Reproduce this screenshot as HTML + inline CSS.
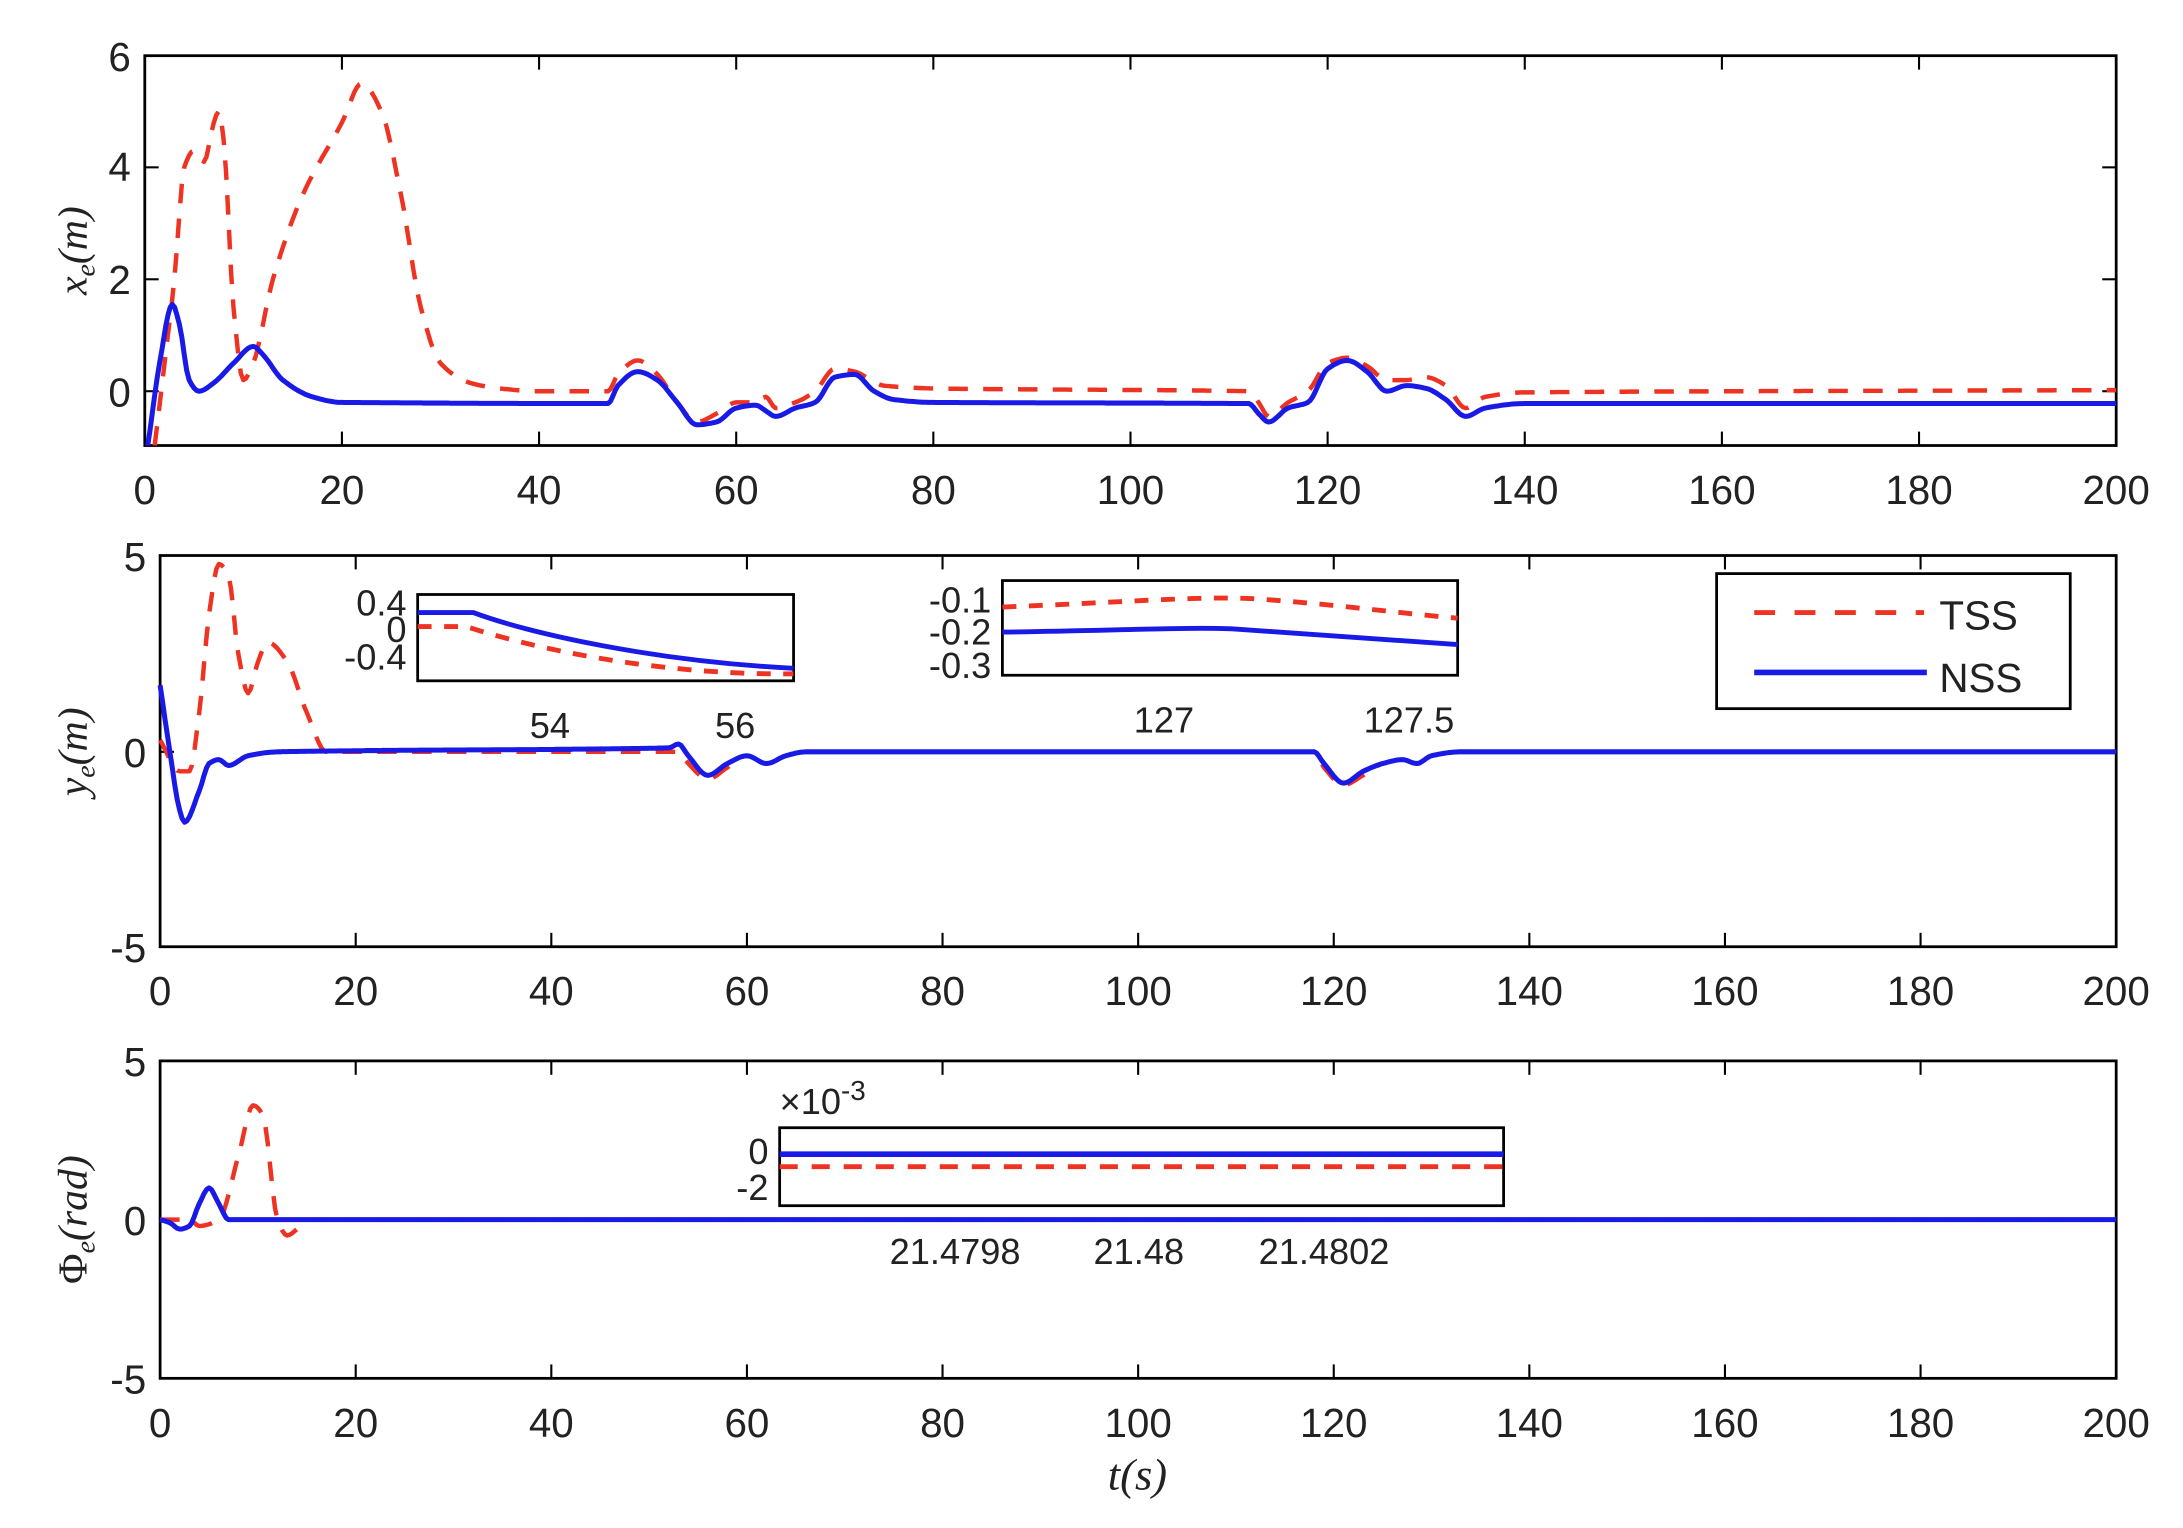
<!DOCTYPE html>
<html><head><meta charset="utf-8">
<style>
html,body{margin:0;padding:0;background:#fff;}
svg{display:block;}
text{font-family:"Liberation Sans",sans-serif;fill:#222;}
.it{font-family:"Liberation Serif",serif;font-style:italic;}
</style></head>
<body>
<svg id="s" width="2183" height="1528" viewBox="0 0 1568 1097.5" preserveAspectRatio="none" xmlns="http://www.w3.org/2000/svg">
<g fill="none" stroke="#000" stroke-width="2">
<rect x="104" y="40" width="1416" height="280"/>
<rect x="115" y="399" width="1405" height="281"/>
<rect x="115" y="762" width="1405" height="228"/>
</g>
<g id="ticks" stroke="#000" stroke-width="1.5"></g>
<g id="series"></g>
<g font-size="29" text-anchor="middle" id="labels"></g>
<g font-size="29" text-anchor="end">
<text x="94" y="51">6</text><text x="94" y="130">4</text><text x="94" y="211">2</text><text x="94" y="292">0</text>
<text x="105" y="410">5</text><text x="105" y="551">0</text><text x="105" y="691">-5</text>
<text x="105" y="773">5</text><text x="105" y="887">0</text><text x="105" y="1001">-5</text>
</g>
<text class="it" font-size="30" transform="translate(62,180) rotate(-90)" text-anchor="middle">x<tspan font-size="20" dy="6">e</tspan><tspan dy="-6">(m)</tspan></text>
<text class="it" font-size="30" transform="translate(62,540) rotate(-90)" text-anchor="middle">y<tspan font-size="20" dy="6">e</tspan><tspan dy="-6">(m)</tspan></text>
<text class="it" font-size="30" transform="translate(62,876) rotate(-90)" text-anchor="middle"><tspan font-style="normal">Φ</tspan><tspan font-size="20" dy="6">e</tspan><tspan dy="-6">(rad)</tspan></text>
<text class="it" font-size="32" x="817" y="1070" text-anchor="middle">t(s)</text>
<g id="over">
<rect x="1233" y="412" width="254" height="97" fill="#fff" stroke="#000" stroke-width="2"/>
<line x1="1260" y1="440" x2="1382" y2="440" stroke="#e32" stroke-width="3.5" stroke-dasharray="15,14"/>
<line x1="1260" y1="483" x2="1384" y2="483" stroke="#1a1ae6" stroke-width="4"/>
<text x="1393" y="452" font-size="29">TSS</text>
<text x="1393" y="497" font-size="29">NSS</text>
<rect x="300" y="427" width="270" height="62" fill="#fff" stroke="#000" stroke-width="2"/>
<path d="M300,440 L340,440 C380,455 470,475 570,480" fill="none" stroke="#1a1ae6" stroke-width="3.5"/>
<path d="M300,450 L335,450 C380,465 470,485 570,484" fill="none" stroke="#e32" stroke-width="3.5" stroke-dasharray="10,9"/>
<g font-size="26" text-anchor="end"><text x="292" y="442">0.4</text><text x="292" y="461">0</text><text x="292" y="481">-0.4</text></g>
<g font-size="26" text-anchor="middle"><text x="395" y="530">54</text><text x="528" y="530">56</text></g>
<rect x="720" y="417" width="327" height="68" fill="#fff" stroke="#000" stroke-width="2"/>
<path d="M720,436 C800,433 860,428 900,430 C960,434 1000,440 1047,444" fill="none" stroke="#e32" stroke-width="3.5" stroke-dasharray="10,9"/>
<path d="M720,454 C800,453 860,450 890,452 C950,456 1000,460 1047,463" fill="none" stroke="#1a1ae6" stroke-width="3.5"/>
<g font-size="26" text-anchor="end"><text x="712" y="440">-0.1</text><text x="712" y="463">-0.2</text><text x="712" y="487">-0.3</text></g>
<g font-size="26" text-anchor="middle"><text x="836" y="526">127</text><text x="1012" y="526">127.5</text></g>
<rect x="560" y="810" width="520" height="56" fill="#fff" stroke="#000" stroke-width="2"/>
<line x1="560" y1="829" x2="1080" y2="829" stroke="#1a1ae6" stroke-width="4"/>
<line x1="560" y1="838" x2="1080" y2="838" stroke="#e32" stroke-width="3.5" stroke-dasharray="13,10"/>
<g font-size="26" text-anchor="end"><text x="552" y="836">0</text><text x="552" y="862">-2</text></g>
<text x="560" y="800" font-size="26">×10<tspan font-size="20" dy="-10">-3</tspan></text>
<g font-size="26" text-anchor="middle"><text x="686" y="908">21.4798</text><text x="818" y="908">21.48</text><text x="951" y="908">21.4802</text></g>
</g>
</svg>
<script>
var NS="http://www.w3.org/2000/svg";
function el(p,tag,a){var e=document.createElementNS(NS,tag);for(var k in a)e.setAttribute(k,a[k]);p.appendChild(e);return e;}
var T=document.getElementById('ticks'),L=document.getElementById('labels'),S=document.getElementById('series');
var plots=[{x0:104,w:1416,top:40,bot:320,ly:362,y0:281,sy:40.2,yt:[-1,0,2,4,6]},
{x0:115,w:1405,top:399,bot:680,ly:722,y0:540,sy:28.1,yt:[-5,0,5]},
{x0:115,w:1405,top:762,bot:990,ly:1032,y0:876,sy:22.8,yt:[-5,0,5]}];
plots.forEach(function(p){
 for(var t=0;t<=200;t+=20){var x=p.x0+p.w*t/200;
  if(t>0&&t<200){el(T,'line',{x1:x,y1:p.top,x2:x,y2:p.top+10});el(T,'line',{x1:x,y1:p.bot,x2:x,y2:p.bot-10});}
  var tx=el(L,'text',{x:x,y:p.ly});tx.textContent=t;}
 p.yt.forEach(function(v){var y=p.y0-v*p.sy;if(y>p.top+2&&y<p.bot-2){el(T,'line',{x1:p.x0,y1:y,x2:p.x0+10,y2:y});el(T,'line',{x1:p.x0+p.w,y1:y,x2:p.x0+p.w-10,y2:y});}});
});
function draw(p,pts,red){
 var n=pts.length,xs=pts.map(function(q){return q[0];}),ys=pts.map(function(q){return q[1];});
 var d=[],m=[];
 for(var i=0;i<n-1;i++)d.push((ys[i+1]-ys[i])/(xs[i+1]-xs[i]));
 for(i=0;i<n;i++){
  if(i==0)m.push(d[0]);else if(i==n-1)m.push(d[n-2]);
  else if(d[i-1]*d[i]<=0)m.push(0);else m.push(2/(1/d[i-1]+1/d[i]));
 }
 var path='';
 for(i=0;i<n-1;i++){var h=xs[i+1]-xs[i],steps=Math.max(2,Math.ceil(h*4));
  for(var k=(i==0?0:1);k<=steps;k++){var s=k/steps,s2=s*s,s3=s2*s;
   var y=(2*s3-3*s2+1)*ys[i]+(s3-2*s2+s)*h*m[i]+(-2*s3+3*s2)*ys[i+1]+(s3-s2)*h*m[i+1];
   var X=p.x0+p.w*(xs[i]+s*h)/200,Y=Math.min(p.bot,Math.max(p.top,p.y0-y*p.sy));
   path+=(path?'L':'M')+X.toFixed(1)+','+Y.toFixed(1);}
 }
 var a={d:path,fill:'none','stroke-width':red?3.2:3.6,stroke:red?'#e32':'#1a1ae6','stroke-linejoin':'round'};
 if(red)a['stroke-dasharray']='14,11';
 el(S,'path',a);
}
draw(plots[0],[[1,-1],[2,0.5],[3,2],[4,4],[5,4.3],[6,4.1],[7,4.8],[7.5,5.0],[8,4.5],[9,1.5],[10,0.2],[11,0.5],[13,2],[16,3.5],[20,4.8],[22,5.5],[24,5.0],[26,3.5],[28,1.5],[30,0.5],[33,0.15],[36,0.05],[40,0],[47,0],[48,0.3],[50,0.55],[52,0.3],[54,-0.2],[56,-0.55],[58,-0.4],[60,-0.2],[62,-0.2],[63,-0.1],[64,-0.3],[66,-0.2],[68,0],[70,0.4],[72,0.35],[75,0.1],[80,0.05],[112,0.0],[113,-0.2],[114,-0.45],[116,-0.2],[118,0],[120,0.5],[122,0.6],[124,0.45],[126,0.2],[128,0.2],[130,0.25],[132,0.1],[134,-0.3],[136,-0.1],[140,-0.02],[200,0.02]],true);
draw(plots[0],[[0.3,-1],[1.5,0.5],[2.8,1.55],[3.5,1.2],[4.5,0.2],[5.5,0],[7,0.15],[9,0.5],[11,0.8],[12,0.65],[14,0.2],[17,-0.1],[20,-0.2],[47,-0.22],[48,0.1],[50,0.35],[52,0.2],[54,-0.2],[56,-0.6],[58,-0.55],[60,-0.3],[62,-0.25],[63,-0.35],[64,-0.45],[66,-0.3],[68,-0.2],[70,0.25],[72,0.3],[74,0],[76,-0.15],[80,-0.2],[112,-0.22],[113,-0.4],[114,-0.55],[116,-0.3],[118,-0.2],[120,0.4],[122,0.55],[124,0.35],[126,0],[128,0.1],[130,0.05],[132,-0.15],[134,-0.45],[136,-0.3],[140,-0.22],[200,-0.22]],false);
draw(plots[1],[[0,0.3],[2,-0.5],[3,-0.5],[4,1],[5,3.5],[6,4.8],[7,4.5],[8,2.5],[9,1.5],[10,2.3],[11,2.8],[13,2.3],[15,1],[17,0],[20,0],[52,0],[53,0],[54,-0.3],[56,-0.7],[58,-0.4],[60,-0.1],[62,-0.3],[64,-0.1],[66,0],[118,0],[119,-0.4],[121,-0.85],[123,-0.6],[125,-0.3],[127,-0.2],[128.5,-0.3],[130,-0.1],[133,0],[200,0]],true);
draw(plots[1],[[0,1.7],[1,0],[2,-1.5],[2.5,-1.8],[4,-1],[5,-0.3],[6,-0.2],[7,-0.35],[9,-0.1],[12,0],[52,0.1],[53,0.2],[54,-0.1],[56,-0.6],[58,-0.3],[60,-0.1],[62,-0.3],[64,-0.1],[66,0],[118,0],[119,-0.3],[121,-0.8],[123,-0.5],[125,-0.3],[127,-0.2],[128.5,-0.3],[130,-0.1],[133,0],[200,0]],false);
draw(plots[2],[[0,0],[3,0],[4,-0.2],[6,0],[8,2],[9.5,3.6],[10.5,3.3],[12,0],[13,-0.5],[14,-0.3],[15,0],[200,0]],true);
draw(plots[2],[[0,0],[1,-0.1],[2,-0.3],[3,-0.2],[4,0.5],[5,1.0],[6,0.5],[7,0],[200,0]],false);
</script>
</body></html>
